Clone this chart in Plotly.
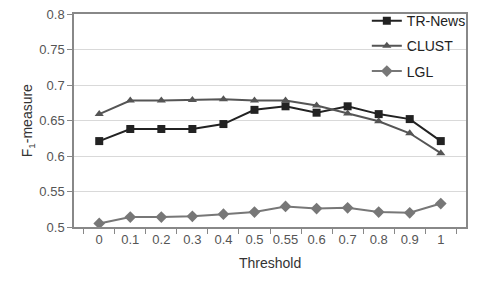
import plotly.graph_objects as go

thresholds = ["0", "0.1", "0.2", "0.3", "0.4", "0.5", "0.55", "0.6", "0.7", "0.8", "0.9", "1"]
tr_news = [0.621, 0.638, 0.638, 0.638, 0.645, 0.665, 0.670, 0.661, 0.670, 0.659, 0.652, 0.621]
clust = [0.659, 0.678, 0.678, 0.679, 0.680, 0.678, 0.678, 0.671, 0.660, 0.649, 0.632, 0.604]
lgl = [0.505, 0.514, 0.514, 0.515, 0.518, 0.521, 0.529, 0.526, 0.527, 0.521, 0.520, 0.533]

fig = go.Figure()
fig.add_trace(go.Scatter(x=thresholds, y=tr_news, name="TR-News", mode="lines+markers",
                         line=dict(color="#222222", width=2),
                         marker=dict(symbol="square", size=8, color="#222222"),
                         legendgroup="a"))
fig.add_trace(go.Scatter(x=thresholds, y=clust, name="CLUST", mode="lines+markers",
                         line=dict(color="#555555", width=2),
                         marker=dict(symbol="triangle-up", size=8, color="#555555"),
                         legendgroup="b"))
fig.add_trace(go.Scatter(x=thresholds, y=lgl, name="LGL", mode="lines+markers",
                         line=dict(color="#777777", width=2),
                         marker=dict(symbol="diamond", size=9, color="#777777"),
                         legendgroup="c"))

fig.update_layout(
    width=480, height=288,
    margin=dict(l=74, r=14, t=14, b=61, autoexpand=False),
    paper_bgcolor="white", plot_bgcolor="white",
    font=dict(family="Liberation Sans, Arial, sans-serif", size=13, color="#555555"),
    legend=dict(x=0.747, y=1.042, xanchor="left", yanchor="top",
                bgcolor="rgba(0,0,0,0)", font=dict(size=14, color="#222222"),
                traceorder="grouped", tracegroupgap=4),
    showlegend=True,
    annotations=[
        dict(text="Threshold", xref="paper", yref="paper", x=0.5, y=-0.169,
             xanchor="center", yanchor="middle", showarrow=False,
             font=dict(size=14, color="#333333")),
        dict(text="F<sub>1</sub>-measure", xref="paper", yref="paper", x=-0.118, y=0.5,
             xanchor="center", yanchor="middle", showarrow=False, textangle=-90,
             font=dict(size=14, color="#333333")),
    ],
)
fig.update_xaxes(type="category", tickson="boundaries", ticks="outside", ticklen=5,
                 tickcolor="#888888", showline=True, linecolor="#888888", linewidth=1.5,
                 mirror=True, showgrid=False, tickangle=0, automargin=False)
fig.update_yaxes(range=[0.5, 0.8], dtick=0.05, ticks="outside", ticklen=5,
                 tickcolor="#888888", showline=True, linecolor="#888888", linewidth=1.5,
                 mirror=True, showgrid=True, gridcolor="#d9d9d9", zeroline=False,
                 tickformat="~g", automargin=False)

fig.write_html("out.html", config={"displayModeBar": False},
               post_script="document.body.style.margin='0';")
